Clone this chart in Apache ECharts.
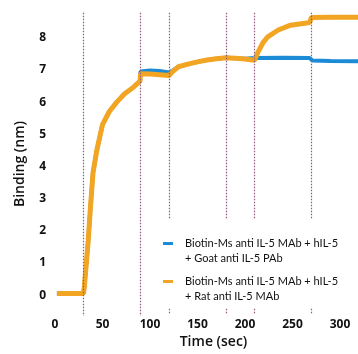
<!DOCTYPE html>
<html><head><meta charset="utf-8">
<script src="https://cdn.jsdelivr.net/npm/echarts@6/dist/echarts.min.js"></script>
<style>html,body{margin:0;padding:0;background:#fff}#c{width:358px;height:354px}</style>
</head><body><div id="c"></div>
<script>
var seriesNames = ['Biotin-Ms anti IL-5 MAb + hIL-5\n+ Goat anti IL-5 PAb', 'Biotin-Ms anti IL-5 MAb + hIL-5\n+ Rat anti IL-5 MAb'];
var goatTimes  = [2, 30, 31, 33, 35, 37, 40, 44, 50, 57, 65, 73, 82, 89.5, 90, 100, 110, 120, 125, 130, 140, 150, 160, 170, 180, 190, 200, 210, 240, 268, 271, 290, 319];
var goatValues = [0.05, 0.05, 0.3, 1.0, 1.7, 2.6, 3.8, 4.5, 5.3, 5.7, 6.0, 6.25, 6.45, 6.65, 6.95, 6.98, 6.97, 6.92, 7.0, 7.1, 7.18, 7.25, 7.31, 7.35, 7.38, 7.36, 7.35, 7.37, 7.38, 7.37, 7.29, 7.28, 7.27];
var ratTimes   = [2, 30, 31, 33, 35, 37, 40, 44, 50, 57, 65, 73, 82, 89.5, 90, 100, 110, 120, 125, 130, 140, 150, 160, 170, 180, 190, 200, 210, 214, 219, 224, 235, 248, 263, 268, 270, 290, 319];
var ratValues  = [0.05, 0.05, 0.3, 1.0, 1.7, 2.6, 3.8, 4.5, 5.3, 5.7, 6.0, 6.25, 6.45, 6.65, 6.88, 6.87, 6.85, 6.83, 6.98, 7.1, 7.18, 7.25, 7.31, 7.35, 7.38, 7.36, 7.34, 7.3, 7.57, 7.85, 8.03, 8.24, 8.39, 8.45, 8.47, 8.63, 8.64, 8.64];
var eventTimes = [30, 90, 120, 180, 210, 270];
var xTicks = [0, 50, 100, 150, 200, 250, 300];
var yTicks = [0, 1, 2, 3, 4, 5, 6, 7, 8];

function pairs(ts, vs) { return ts.map(function (t, i) { return [t, vs[i]]; }); }

var markData = [];
eventTimes.forEach(function (t, i) {
  if (i < 2) {
    markData.push([{ coord: [t, 8.78] }, { coord: [t, -0.65] }]);
  } else {
    markData.push([{ coord: [t, 8.78] }, { coord: [t, 2.37] }]);
    markData.push([{ coord: [t, -0.42] }, { coord: [t, -0.58] }]);
  }
});

var font = 'Open Sans';
var chart = echarts.init(document.getElementById('c'), null, { renderer: 'canvas' });
chart.setOption({
  animation: false,
  backgroundColor: '#fff',
  grid: { left: 55, right: 0, top: 12, bottom: 31, containLabel: false },
  xAxis: {
    type: 'value', min: 0, max: 319, interval: 50,
    axisLine: { show: false }, axisTick: { show: false }, splitLine: { show: false },
    axisLabel: { margin: 2, color: '#111', fontFamily: font, fontWeight: 700, fontSize: 12,
      customValues: xTicks },
    name: 'Time (sec)', nameLocation: 'middle', nameGap: 9,
    nameTextStyle: { color: '#111', fontFamily: font, fontWeight: 600, fontSize: 14, padding: [0, 0, 0, 14] }
  },
  yAxis: {
    type: 'value', min: -0.65, max: 8.8,
    axisLine: { show: false }, axisTick: { show: false }, splitLine: { show: false },
    axisLabel: { margin: 9, color: '#111', fontFamily: font, fontWeight: 700, fontSize: 12, customValues: yTicks },
    name: 'Binding (nm)', nameLocation: 'middle', nameGap: 28,
    nameTextStyle: { color: '#111', fontFamily: font, fontWeight: 600, fontSize: 14 }
  },
  legend: {
    orient: 'vertical', left: 163, top: 236, padding: 0, itemGap: 8,
    itemWidth: 17, itemHeight: 30,
    icon: 'path://M0,6H10V9H0Z M0,0L0,0.01 M17,30L17,29.99',
    itemStyle: { borderWidth: 0 },
    textStyle: { fontFamily: 'Lato', fontSize: 11, lineHeight: 15, color: '#111' },
    data: seriesNames
  },
  series: [
    {
      name: seriesNames[0], type: 'line', data: pairs(goatTimes, goatValues),
      symbol: 'none', showSymbol: false, z: 2,
      color: '#1b8bd6', lineStyle: { width: 4, color: '#1b8bd6' },
      markLine: {
        silent: true, symbol: 'none', label: { show: false },
        lineStyle: { type: [1.5, 1.5], color: '#8c5a7c', width: 1.2 },
        data: markData
      }
    },
    {
      name: seriesNames[1], type: 'line', data: pairs(ratTimes, ratValues),
      symbol: 'none', showSymbol: false, z: 3,
      color: '#f2a523', lineStyle: { width: 5, color: '#f2a523' }
    }
  ]
});
</script></body></html>
